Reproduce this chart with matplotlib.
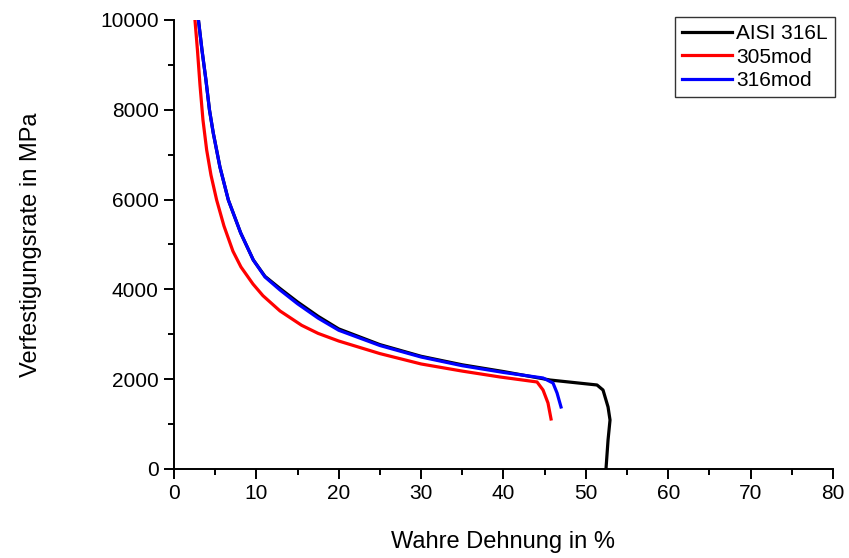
import numpy as np
import matplotlib.pyplot as plt
from matplotlib.ticker import MultipleLocator

plt.rcParams['font.family'] = ['Liberation Sans', 'DejaVu Sans']

# Werte (wahre Dehnung in %, Verfestigungsrate in MPa)
x_316L = [2.97, 3.40, 3.88, 4.31, 4.77, 5.58, 6.60, 8.10, 9.63, 11.05, 12.87, 15.0, 17.5, 20.0,
          25.0, 30.0, 35.0, 40.0, 45.64, 51.35, 52.08, 52.69, 52.93, 52.69, 52.44]
y_316L = [10000, 9332, 8664, 7996, 7483, 6726, 5991, 5256, 4655, 4290, 4020, 3720, 3400, 3120,
          2770, 2510, 2320, 2170, 1982, 1871, 1759, 1381, 1091, 646, 0]

x_305 = [2.55, 2.85, 3.16, 3.52, 3.97, 4.49, 5.18, 6.07, 7.16, 8.13, 9.59, 10.80, 12.87,
         15.5, 17.5, 20.0, 25.0, 30.0, 35.0, 39.58, 44.07, 44.80, 45.40, 45.77]
y_305 = [10000, 9332, 8552, 7773, 7105, 6548, 5991, 5412, 4850, 4500, 4120, 3860, 3520,
         3200, 3020, 2850, 2570, 2339, 2180, 2049, 1938, 1759, 1470, 1114]

x_316 = [2.97, 3.40, 3.88, 4.31, 4.77, 5.58, 6.60, 8.10, 9.63, 11.05, 12.87, 15.0, 17.5, 20.0,
         25.0, 30.0, 35.0, 40.0, 44.80, 46.01, 46.50, 46.98]
y_316 = [10000, 9332, 8664, 7996, 7483, 6726, 5991, 5256, 4655, 4276, 3987, 3680, 3360, 3090,
         2750, 2494, 2300, 2150, 2027, 1915, 1693, 1381]

fig = plt.figure(figsize=(8.49, 5.58), dpi=100)
ax = fig.add_axes([0.2049, 0.1595, 0.7763, 0.8047])

ax.plot(x_316L, y_316L, color='black', lw=2.3, label='AISI 316L')
ax.plot(x_305, y_305, color='#ff0000', lw=2.3, label='305mod')
ax.plot(x_316, y_316, color='#0000ff', lw=2.3, label='316mod')

ax.set_xlim(0, 80)
ax.set_ylim(0, 10000)
ax.xaxis.set_major_locator(MultipleLocator(10))
ax.xaxis.set_minor_locator(MultipleLocator(5))
ax.yaxis.set_major_locator(MultipleLocator(2000))
ax.yaxis.set_minor_locator(MultipleLocator(1000))

for s in ['top', 'right']:
    ax.spines[s].set_visible(False)
for s in ['left', 'bottom']:
    ax.spines[s].set_linewidth(1.4)
ax.tick_params(which='major', direction='out', length=7, width=1.4, labelsize=15, pad=4)
ax.tick_params(which='minor', direction='out', length=4.5, width=1.4)

ax.set_xlabel('Wahre Dehnung in %', fontsize=17, labelpad=20)
ax.set_ylabel('Verfestigungsrate in MPa', fontsize=17, labelpad=42)

leg = ax.legend(loc='upper right', bbox_to_anchor=(0.9835, 0.97), bbox_transform=fig.transFigure,
                fontsize=15, frameon=True, fancybox=False, handlelength=2.4, handletextpad=0.2,
                labelspacing=0.22, borderpad=0.35, borderaxespad=0)
leg.get_frame().set_edgecolor('black')
leg.get_frame().set_linewidth(1.0)

fig.savefig('out.png', dpi=100)
